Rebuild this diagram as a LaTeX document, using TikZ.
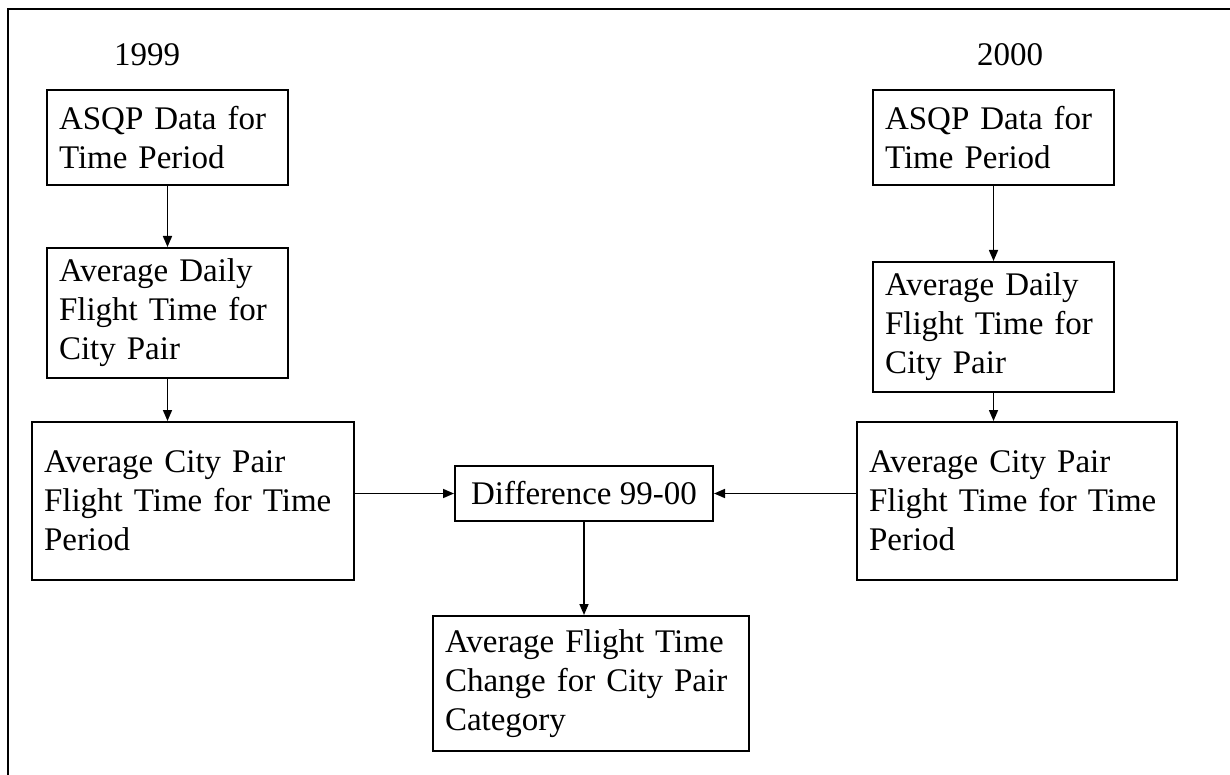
\documentclass[tikz,border=0pt]{standalone}
\usepackage{fontspec}
\setmainfont{Liberation Serif}
\usetikzlibrary{arrows.meta,positioning}

\tikzset{
  stepbox/.style={draw,line width=2pt,inner xsep=12pt,inner ysep=2pt,align=left,
    font=\fontsize{33}{39}\selectfont},
  yearlbl/.style={font=\fontsize{33}{39}\selectfont},
  flow/.style={line width=1.6pt,-{Triangle[length=11pt,width=9pt]}}
}

\begin{document}
\begin{tikzpicture}[x=1pt,y=-1pt]
\useasboundingbox (0,0) rectangle (1230,775);
\begin{scope}
  \clip (0,0) rectangle (1230,775);
  \draw[line width=2.4pt] (8,9) rectangle (1250,800);
\end{scope}
% 1999 side
\node[yearlbl] (y99) at (147,55) {1999};
\node[stepbox,text width=217pt,minimum height=95pt] (asqpL) at (167.5,137.5) {ASQP Data for\\Time Period};
\node[stepbox,text width=217pt,minimum height=130pt] (dailyL) at (167.5,313) {Average Daily\\Flight Time for\\City Pair};
\node[stepbox,text width=298pt,minimum height=158pt] (periodL) at (193,501) {Average City Pair\\Flight Time for Time\\Period};
% 2000 side
\node[yearlbl] (y00) at (1010,55) {2000};
\node[stepbox,text width=217pt,minimum height=95pt] (asqpR) at (993.5,137.5) {ASQP Data for\\Time Period};
\node[stepbox,text width=217pt,minimum height=130pt] (dailyR) at (993.5,327) {Average Daily\\Flight Time for\\City Pair};
\node[stepbox,text width=296pt,minimum height=158pt] (periodR) at (1017,501) {Average City Pair\\Flight Time for Time\\Period};
% middle
\node[stepbox,align=center,minimum width=258pt,minimum height=55pt,inner xsep=4pt] (diff) at (584,493.5) {Difference 99-00};
\node[stepbox,text width=292pt,minimum height=135pt] (change) at (591,683.5) {Average Flight Time\\Change for City Pair\\Category};
% connectors
\draw[flow] (asqpL) -- (dailyL);
\draw[flow] (dailyL) -- (dailyL |- periodL.north);
\draw[flow] (asqpR) -- (dailyR);
\draw[flow] (dailyR) -- (dailyR |- periodR.north);
\draw[flow] (periodL.east |- diff.west) -- (diff.west);
\draw[flow] (periodR.west |- diff.east) -- (diff.east);
\draw[flow] (diff.south) -- (diff.south |- change.north);
\end{tikzpicture}
\end{document}
